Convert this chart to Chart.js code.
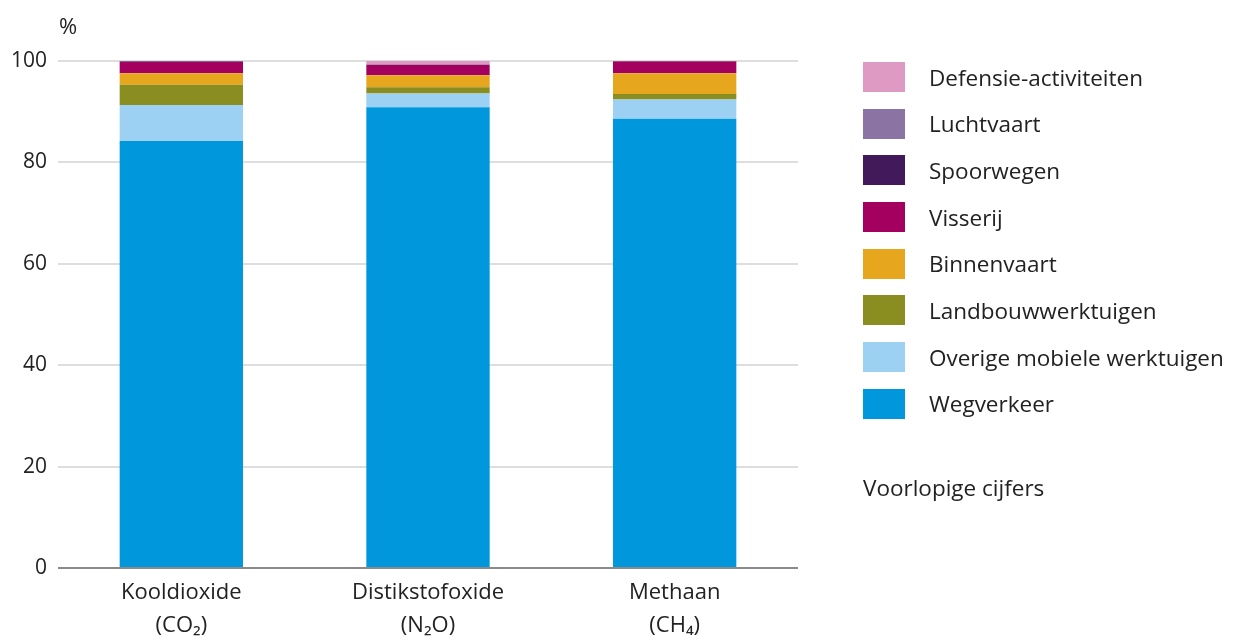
<!DOCTYPE html>
<html lang="nl">
<head>
<meta charset="utf-8">
<script src="https://cdn.jsdelivr.net/npm/chart.js@4"></script>
<style>
    html, body { margin: 0; padding: 0; background: #fff; }
    #wrap { position: relative; width: 1240px; height: 644px; }
    #legend { position: absolute; left: 863px; top: 62px; font-family: "Open Sans", sans-serif; font-size: 22.5px; color: #222; }
    .item { display: flex; align-items: center; height: 30px; margin-bottom: 16.7px; white-space: nowrap; }
    .box { width: 42px; height: 30px; margin-right: 24px; flex: none; }
    #note { position: absolute; left: 863px; top: 472px; font-family: "Open Sans", sans-serif; font-size: 22.5px; color: #222; }
</style>
</head>
<body>
<div id="wrap">
    <canvas id="emissionChart" width="1240" height="644"></canvas>
    <div id="legend"></div>
    <div id="note">Voorlopige cijfers</div>
</div>
<script>
// Aandeel per bron in emissies mobiele bronnen (%)
const categories = [['Kooldioxide', '(CO\u2082)'], ['Distikstofoxide', '(N\u2082O)'], ['Methaan', '(CH\u2084)']];

const wegverkeer = [84.2, 90.9, 88.6];
const overigeWerktuigen = [7.1, 2.7, 3.8];
const landbouwWerktuigen = [4.0, 1.2, 1.1];
const binnenvaart = [2.3, 2.4, 4.1];
const visserij = [2.2, 2.0, 2.3];
const spoorwegen = [0.1, 0.05, 0.05];
const luchtvaart = [0.05, 0.05, 0.05];
const defensie = [0.05, 0.75, 0.05];

const yTicks = [0, 20, 40, 60, 80, 100];

// Bottom to top stacking order
const series = [
    { label: 'Wegverkeer', data: wegverkeer, color: '#0097dc' },
    { label: 'Overige mobiele werktuigen', data: overigeWerktuigen, color: '#9dd1f4' },
    { label: 'Landbouwwerktuigen', data: landbouwWerktuigen, color: '#8a8d1f' },
    { label: 'Binnenvaart', data: binnenvaart, color: '#e6a71e' },
    { label: 'Visserij', data: visserij, color: '#a3005f' },
    { label: 'Spoorwegen', data: spoorwegen, color: '#42195a' },
    { label: 'Luchtvaart', data: luchtvaart, color: '#8b74a3' },
    { label: 'Defensie-activiteiten', data: defensie, color: '#de9ac3' }
];

const fontFamily = '"Open Sans", sans-serif';

// "%" unit label above the y axis
const unitLabel = {
    id: 'unitLabel',
    afterDraw(chart) {
        const ctx = chart.ctx;
        ctx.save();
        ctx.font = '22px ' + fontFamily;
        ctx.fillStyle = '#222';
        ctx.textBaseline = 'middle';
        ctx.textAlign = 'left';
        ctx.fillText('%', 59, 28);
        ctx.restore();
    }
};

const ctx = document.getElementById('emissionChart').getContext('2d');
const emissionChart = new Chart(ctx, {
    type: 'bar',
    data: {
        labels: categories,
        datasets: series.map(s => ({
            label: s.label,
            data: s.data,
            backgroundColor: s.color,
            borderWidth: 0,
            barPercentage: 0.5,
            categoryPercentage: 1
        }))
    },
    options: {
        responsive: false,
        animation: false,
        layout: {
            padding: { top: 61, right: 442, left: 0, bottom: 0 }
        },
        plugins: {
            legend: { display: false },
            tooltip: { enabled: false }
        },
        scales: {
            x: {
                stacked: true,
                grid: { display: false },
                border: { display: false },
                ticks: {
                    color: '#222',
                    padding: 0,
                    font: { family: fontFamily, size: 22, lineHeight: 1.5 }
                },
                afterFit(scale) { scale.height = 76; }
            },
            y: {
                stacked: true,
                min: 0,
                max: 100,
                afterBuildTicks(scale) { scale.ticks = yTicks.map(v => ({ value: v })); },
                grid: {
                    drawTicks: false,
                    lineWidth: 2,
                    color: c => c.tick && c.tick.value === 0 ? '#8a8a8a' : '#dedede'
                },
                border: { display: false },
                ticks: {
                    color: '#222',
                    padding: 11,
                    font: { family: fontFamily, size: 21 }
                },
                afterFit(scale) { scale.width = 58; }
            }
        }
    },
    plugins: [unitLabel]
});

// Legend, top to bottom = reverse stacking order
const legendEl = document.getElementById('legend');
series.slice().reverse().forEach(s => {
    const item = document.createElement('div');
    item.className = 'item';
    item.innerHTML = '<span class="box" style="background:' + s.color + '"></span><span>' + s.label + '</span>';
    legendEl.appendChild(item);
});
</script>
</body>
</html>
